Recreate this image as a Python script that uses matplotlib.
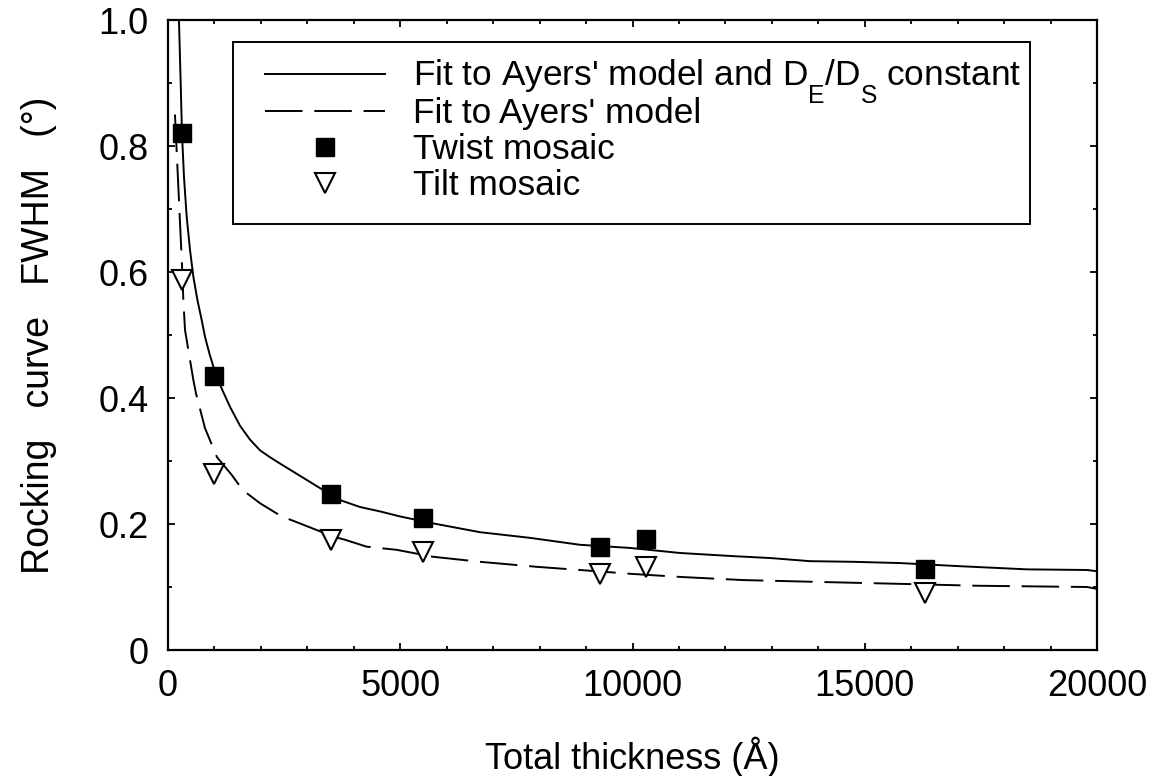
import matplotlib
matplotlib.use("Agg")
import matplotlib.pyplot as plt
from matplotlib.ticker import MultipleLocator, FixedLocator
from matplotlib.lines import Line2D
from matplotlib.patches import Rectangle

try:
    import matplotlib._mathtext as _mt
    _mt.FontConstantsBase.sub1 = 0.95
    _mt.FontConstantsBase.script_space = 0.0
except Exception:
    pass

# ---------------- data ----------------
thickness = [300, 1000, 3500, 5500, 9300, 10300, 16300]
twist = [0.82, 0.435, 0.247, 0.21, 0.164, 0.176, 0.128]
tilt = [0.588, 0.28, 0.175, 0.155, 0.121, 0.131, 0.090]

fit_const_t = [215, 237, 273, 301, 344, 402, 474, 545, 632, 725, 797, 890, 976,
               1155, 1335, 1550, 1765, 1980, 2196, 2411, 2698, 2985, 3272, 3703,
               4133, 4564, 4995, 5705, 6717, 7793, 8870, 9946, 11022, 12164,
               12960, 13821, 14747, 15759, 17050, 18493, 19785, 20000]
fit_const_y = [1.06, 0.997, 0.90, 0.82, 0.751, 0.688, 0.635, 0.593, 0.556, 0.524,
               0.497, 0.471, 0.450, 0.415, 0.386, 0.356, 0.334, 0.317, 0.306,
               0.296, 0.283, 0.270, 0.257, 0.238, 0.227, 0.220, 0.212, 0.201,
               0.187, 0.178, 0.167, 0.162, 0.154, 0.149, 0.146, 0.141, 0.140,
               0.138, 0.133, 0.128, 0.127, 0.125]

fit_t = [150, 308, 330, 366, 545, 603, 797, 904, 1055, 1371, 1607, 1980, 2447,
         2734, 3560, 3810, 4277, 4923, 5705, 6717, 7944, 8870, 9946, 11022,
         12380, 14037, 15759, 17417, 19785, 20000]
fit_y = [0.85, 0.60, 0.556, 0.508, 0.429, 0.407, 0.352, 0.333, 0.306, 0.278,
         0.254, 0.233, 0.212, 0.204, 0.180, 0.175, 0.164, 0.159, 0.148, 0.140,
         0.132, 0.127, 0.121, 0.116, 0.111, 0.108, 0.105, 0.102, 0.100, 0.097]

x_major = [0, 5000, 10000, 15000, 20000]
x_labels = ["0", "5000", "10000", "15000", "20000"]
y_major = [0, 0.2, 0.4, 0.6, 0.8, 1.0]
y_labels = ["0", "0.2", "0.4", "0.6", "0.8", "1.0"]

labels = ["Fit to Ayers' model and D$_\\mathregular{E}$/D$_\\mathregular{S}$ constant",
          "Fit to Ayers' model", "Twist mosaic", "Tilt mosaic"]

# ---------------- style ----------------
plt.rcParams['font.family'] = ['Liberation Sans', 'DejaVu Sans']
plt.rcParams['mathtext.fontset'] = 'custom'
plt.rcParams['mathtext.rm'] = 'Liberation Sans'
plt.rcParams['mathtext.it'] = 'Liberation Sans:italic'
plt.rcParams['mathtext.bf'] = 'Liberation Sans:bold'
plt.rcParams['lines.scale_dashes'] = False

FS = 26
LFS = 25.4
LW = 1.4
DASH = (0, (27, 8.5))

fig = plt.figure(figsize=(11.55, 7.76), dpi=100)
ax = fig.add_axes([168/1155, 1 - 650/776, (1097-168)/1155, (650-20)/776])

ax.plot(fit_const_t, fit_const_y, color='black', lw=LW, solid_joinstyle='round')
ax.plot(fit_t, fit_y, color='black', lw=LW, linestyle=DASH)
ax.plot(thickness, twist, linestyle='none', marker='s', ms=13.5, mfc='black',
        mec='black', mew=1.0)
ax.plot(thickness, tilt, linestyle='none', marker='v', ms=14, mfc='white',
        mec='black', mew=1.5)

ax.set_xlim(0, 20000)
ax.set_ylim(0, 1.0)
ax.xaxis.set_major_locator(FixedLocator(x_major))
ax.set_xticklabels(x_labels)
ax.xaxis.set_minor_locator(MultipleLocator(1000))
ax.yaxis.set_major_locator(FixedLocator(y_major))
ax.set_yticklabels(y_labels)
ax.yaxis.set_minor_locator(MultipleLocator(0.1))

ax.tick_params(which='both', direction='in', top=True, right=True,
               width=1.3, labelsize=FS, pad=14)
ax.tick_params(which='major', length=5)
ax.tick_params(which='minor', length=3)
for s in ax.spines.values():
    s.set_linewidth(1.6)

ax.set_xlabel("Total thickness (Å)", fontsize=FS, labelpad=23)
ax.set_ylabel("Rocking   curve   FWHM   (°)", fontsize=27, labelpad=30)

# legend
handles = [Line2D([], [], color='black', lw=LW),
           Line2D([], [], color='black', lw=LW, linestyle=DASH),
           Line2D([], [], linestyle='none', marker='s', ms=13.5, mfc='black', mec='black', mew=1.0),
           Line2D([], [], linestyle='none', marker='v', ms=14, mfc='white', mec='black', mew=1.5)]
x0 = (233-168)/929
y0 = (650-224)/630
w = (1030-233)/929
h = (224-42)/630
ax.add_patch(Rectangle((x0, y0), w, h, transform=ax.transAxes, fill=False,
                       edgecolor='black', lw=1.4, zorder=5))
fpx = LFS * 100 / 72
common = dict(loc='upper left', frameon=False, fontsize=LFS,
              handlelength=120/fpx, handletextpad=28/fpx,
              labelspacing=0.09, borderpad=0, borderaxespad=0)
leg1 = ax.legend(handles[:1], labels[:1],
                 bbox_to_anchor=((265-168)/929, (650-58)/630), **common)
ax.add_artist(leg1)
leg2 = ax.legend(handles[1:], labels[1:],
                 bbox_to_anchor=((265-168)/929, (650-97)/630), **common)

fig.savefig("out.png", dpi=100)
